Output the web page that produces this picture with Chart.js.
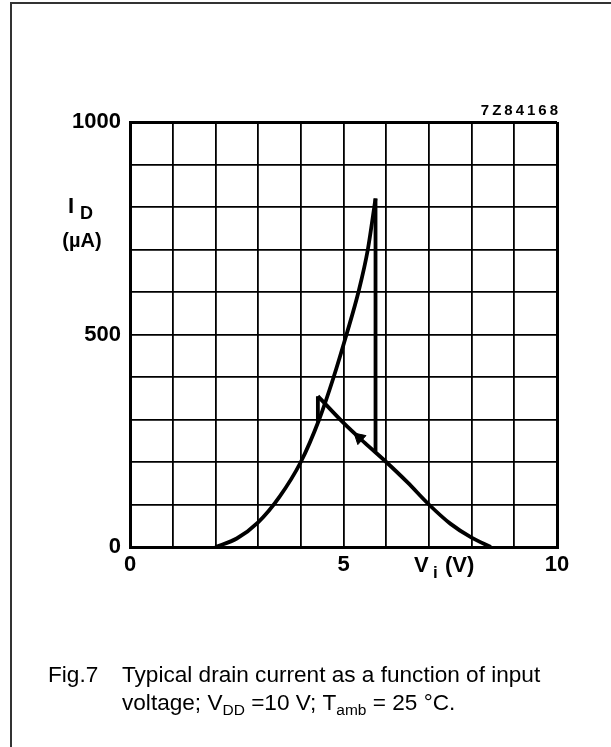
<!DOCTYPE html>
<html>
<head>
<meta charset="utf-8">
<script src="https://cdn.jsdelivr.net/npm/chart.js@4.4.1/dist/chart.umd.min.js"></script>
<style>
  html, body { margin: 0; padding: 0; background: #fff; }
  #wrap { width: 611px; height: 747px; position: relative; }
</style>
</head>
<body>
<div id="wrap"><canvas id="c" width="611" height="747"></canvas></div>
<script>
// ---- Data (Vi in volts, ID in microamps) ----
const risingV  = [2.0, 2.5, 3.0, 3.5, 4.0, 4.43, 4.77, 5.07, 5.35, 5.57, 5.75];
const risingI  = [0,   20,  58,  118, 200, 300,  400,  500,  600,  700,  820];
const jumpV    = [5.75, 5.75];
const jumpI    = [820, 225];
const fallingV = [4.4, 5.0, 5.5, 6.0, 6.5, 7.0, 7.5, 8.0, 8.45];
const fallingI = [355, 292, 245, 200, 152, 100, 55,  22,  0];
const stepV    = [4.4, 4.4];
const stepI    = [355, 295];
const arrowV   = [5.37];
const arrowI   = [257];
const xTickLabels = ['0', '5', '10'];
const yTickLabels = ['0', '500', '1000'];
const figCode = '7Z84168';

const toPts = (xs, ys) => xs.map((x, i) => ({ x: x, y: ys[i] }));

const FONT = '"Liberation Sans", Arial, sans-serif';

const lineDs = (data, interp) => ({
  data: data,
  showLine: true,
  borderColor: '#000',
  borderWidth: 3.8,
  pointRadius: 0,
  fill: false,
  cubicInterpolationMode: interp ? 'monotone' : 'default',
  tension: 0
});

const decor = {
  id: 'decor',
  beforeDraw(chart) {
    const ctx = chart.ctx;
    ctx.save();
    ctx.fillStyle = '#fff';
    ctx.fillRect(0, 0, chart.width, chart.height);
    ctx.restore();
  },
  afterDraw(chart) {
    const ctx = chart.ctx;
    ctx.save();
    // outer frame (left and top)
    ctx.strokeStyle = '#333';
    ctx.lineWidth = 2;
    ctx.beginPath();
    ctx.moveTo(11, 747);
    ctx.lineTo(11, 3);
    ctx.lineTo(611, 3);
    ctx.stroke();

    ctx.fillStyle = '#000';
    // figure code
    ctx.font = 'bold 15px ' + FONT;
    ctx.textAlign = 'right';
    ctx.textBaseline = 'alphabetic';
    try { ctx.letterSpacing = '3px'; } catch (e) {}
    ctx.fillText(figCode, 561, 115);
    try { ctx.letterSpacing = '0px'; } catch (e) {}

    // y axis title I_D (µA)
    ctx.textAlign = 'left';
    ctx.font = 'bold 22px ' + FONT;
    ctx.fillText('I', 68, 213);
    ctx.font = 'bold 18px ' + FONT;
    ctx.fillText('D', 80, 219);
    ctx.font = 'bold 20px ' + FONT;
    ctx.textAlign = 'center';
    ctx.fillText('(\u00b5A)', 82, 247);

    // x axis title V_i (V)
    ctx.textAlign = 'left';
    ctx.font = 'bold 22px ' + FONT;
    ctx.fillText('V', 414, 572);
    ctx.font = 'bold 17px ' + FONT;
    ctx.fillText('i', 433, 578);
    ctx.font = 'bold 22px ' + FONT;
    ctx.fillText('(V)', 445, 572);

    // caption
    const cap = '22.6px ' + FONT;
    const sub = '15.5px ' + FONT;
    ctx.font = cap;
    ctx.fillText('Fig.7', 48, 682);
    ctx.fillText('Typical drain current as a function of input', 122, 682);
    let x = 122;
    const y2 = 710;
    const parts = [
      ['voltage; V', cap, 0], ['DD', sub, 5], [' =10 V; T', cap, 0],
      ['amb', sub, 5], [' = 25 \u00b0C.', cap, 0]
    ];
    parts.forEach(p => {
      ctx.font = p[1];
      ctx.fillText(p[0], x, y2 + p[2]);
      x += ctx.measureText(p[0]).width;
    });
    ctx.restore();
  }
};

const gridW = (c) => (c.tick && (c.tick.value === 0 || c.tick.value === 10 || c.tick.value === 1000)) ? 3 : 1.8;

new Chart(document.getElementById('c'), {
  type: 'scatter',
  data: {
    datasets: [
      lineDs(toPts(risingV, risingI), true),
      lineDs(toPts(jumpV, jumpI), false),
      lineDs(toPts(fallingV, fallingI), true),
      lineDs(toPts(stepV, stepI), false),
      {
        data: toPts(arrowV, arrowI),
        showLine: false,
        pointStyle: 'triangle',
        pointRadius: 7,
        pointRotation: -48,
        backgroundColor: '#000',
        borderColor: '#000',
        borderWidth: 1
      }
    ]
  },
  options: {
    responsive: false,
    animation: false,
    devicePixelRatio: 1,
    layout: { padding: { top: 122, right: 54, left: 0, bottom: 0 } },
    plugins: { legend: { display: false }, tooltip: { enabled: false } },
    scales: {
      x: {
        type: 'linear',
        min: 0, max: 10,
        afterFit: (s) => { s.height = 200; },
        border: { display: true, color: '#000', width: 3 },
        grid: { color: '#000', lineWidth: gridW, drawTicks: false },
        ticks: {
          stepSize: 1,
          padding: 5,
          color: '#000',
          font: { family: FONT, size: 22, weight: 'bold' },
          callback: (v) => (v % 5 === 0 ? xTickLabels[v / 5] : '')
        }
      },
      y: {
        type: 'linear',
        min: 0, max: 1000,
        afterFit: (s) => { s.width = 130; },
        border: { display: true, color: '#000', width: 3 },
        grid: { color: '#000', lineWidth: gridW, drawTicks: false },
        ticks: {
          stepSize: 100,
          padding: 9,
          color: '#000',
          font: { family: FONT, size: 22, weight: 'bold' },
          callback: (v) => (v % 500 === 0 ? yTickLabels[v / 500] : '')
        }
      }
    }
  },
  plugins: [decor]
});
</script>
</body>
</html>
